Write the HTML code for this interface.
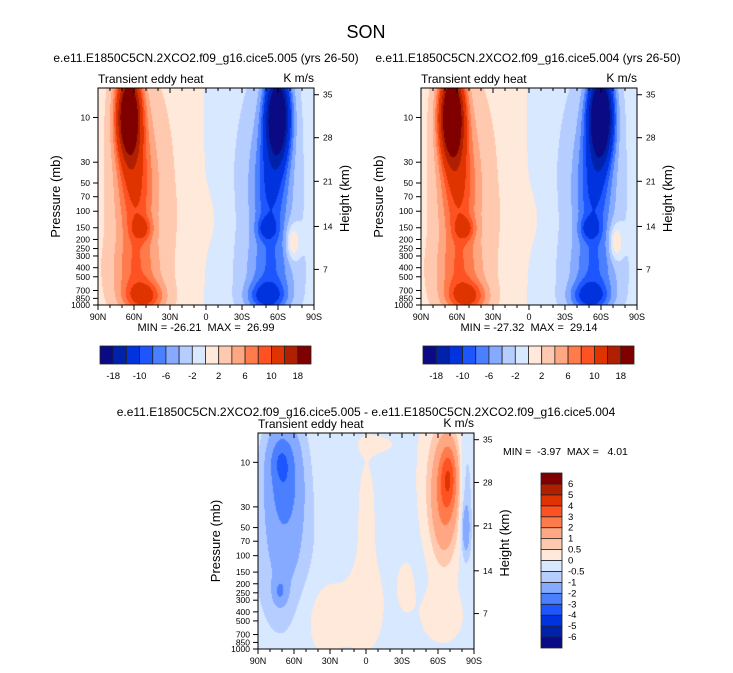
<!DOCTYPE html>
<html><head><meta charset="utf-8"><style>
body{margin:0;background:#fff;width:733px;height:673px;overflow:hidden;position:relative;font-family:"Liberation Sans",sans-serif}
canvas{position:absolute}
svg{position:absolute;left:0;top:0}
text{white-space:pre}
</style></head><body>
<canvas id="c1" width="216" height="217" style="left:98px;top:88px"></canvas>
<canvas id="c2" width="216" height="217" style="left:421px;top:88px"></canvas>
<canvas id="c3" width="216" height="216" style="left:258px;top:433px"></canvas>
<svg id="s" width="733" height="673"></svg>
<script>
// ---- data ----
const levelsTop=[-18,-14,-10,-8,-6,-4,-2,0,2,4,6,8,10,14,18];
const levelsDiff=[-6,-5,-4,-3,-2,-1,-0.5,0,0.5,1,2,3,4,5,6];
const colors=["#0a0a85","#0022aa","#0033dd","#1d55ff","#4a80ff","#86aaff","#b6ceff","#d8e8ff","#ffe9da","#ffc9b0","#ffa682","#ff7b4c","#ff5222","#e03400","#b02000","#800000"];
const latLabels=["90N","60N","30N","0","30S","60S","90S"];
const presTicks=[10,30,50,70,100,150,200,250,300,400,500,700,850,1000];
const heightLabels=["35","28","21","14","7"];
const heightFrac=[0.031,0.229,0.430,0.638,0.836];
// blobs for top panels: u (0=90N,1=90S), v (0=top,1=1000mb)
const t1U=[0.14,0.17,0.2,0.21,0.17,0.2, 0.83,0.8,0.78,0.78,0.8,0.78, 0.9,0.5];
const t1V=[0.12,0.45,0.645,0.96,0.85,0.5, 0.12,0.45,0.645,0.96,0.85,0.5, 0.71,0.6];
const t1A=[24,7,5,8,4,2.5, -24,-7,-5,-8,-4,-2.5, 5.5,1.0];
const t2A=[26,7,5,8,4,2.5, -26,-7,-5,-8,-4,-2.5, 5.5,1.0];
const tSu=[0.055,0.08,0.045,0.09,0.11,0.16, 0.055,0.08,0.045,0.09,0.11,0.16, 0.03,0.1];
const tSv=[0.2,0.3,0.05,0.07,0.15,0.6, 0.2,0.3,0.05,0.07,0.15,0.6, 0.08,0.15];
// diff blobs
const dU=[0.12,0.1,0.1,0.12,0.88,0.86,0.85,0.96,0.96,0.3,0.5,0.5,0.85,0.68,0.55];
const dV=[0.2,0.12,0.73,0.55,0.2,0.35,0.2,0.45,0.25,0.85,0.35,0.8,0.85,0.7,0.05];
const dA=[-2.1,-1.0,-1.4,-0.9,2.6,1.5,1.0,-1.3,-0.7,0.5,0.4,0.45,0.45,0.35,0.4];
const dSu=[0.08,0.05,0.03,0.12,0.04,0.06,0.1,0.02,0.03,0.12,0.05,0.1,0.12,0.05,0.1];
const dSv=[0.25,0.1,0.06,0.35,0.15,0.25,0.35,0.12,0.25,0.2,0.3,0.25,0.15,0.15,0.05];
// ---- drawing ----
function colorFor(val,lev){let i=0;while(i<lev.length&&val>=lev[i])i++;return colors[i];}
function hex(c){return[parseInt(c.substr(1,2),16),parseInt(c.substr(3,2),16),parseInt(c.substr(5,2),16)];}
function drawField(id,f,lev){const c=document.getElementById(id),ctx=c.getContext('2d'),W=c.width,H=c.height,img=ctx.createImageData(W,H);
for(let y=0;y<H;y++)for(let x=0;x<W;x++){const rgb=hex(colorFor(f(x/W,y/H),lev));const k=(y*W+x)*4;img.data[k]=rgb[0];img.data[k+1]=rgb[1];img.data[k+2]=rgb[2];img.data[k+3]=255;}
ctx.putImageData(img,0,0);}
function gsum(u,v,U,V,A,Su,Sv){let s=0;for(let i=0;i<U.length;i++){const a=(u-U[i])/Su[i],b=(v-V[i])/Sv[i];s+=A[i]*Math.exp(-(a*a+b*b));}return s;}
const base=u=>1.0*Math.tanh((0.49-u)*18);
drawField('c1',(u,v)=>base(u)+gsum(u,v,t1U,t1V,t1A,tSu,tSv),levelsTop);
drawField('c2',(u,v)=>base(u)+gsum(u,v,t1U,t1V,t2A,tSu,tSv),levelsTop);
drawField('c3',(u,v)=>-0.25+gsum(u,v,dU,dV,dA,dSu,dSv),levelsDiff);
const svg=document.getElementById('s');const NS="http://www.w3.org/2000/svg";
function el(tag,at,txt){const e=document.createElementNS(NS,tag);for(const k in at)e.setAttribute(k,at[k]);if(txt!==undefined)e.textContent=txt;svg.appendChild(e);return e;}
function txt(x,y,s,size,anchor,name,rot){const e=el('text',{x:x,y:y,'font-size':size,'text-anchor':anchor||'middle',fill:'#000'},s);


if(rot)e.setAttribute('transform','rotate(-90 '+x+' '+y+')');return e;}
function panel(x0,y0,W,H,pfx){
 const r=el('rect',{x:x0,y:y0,width:W,height:H,fill:'none',stroke:'#000','stroke-width':1});
 
 
 const lp=Math.log10(4.85),xs=u=>x0+u*W,yp=p=>y0+(Math.log10(p)-lp)/(3-lp)*H;
 for(let i=0;i<=18;i++){const x=xs(i/18);el('line',{x1:x,y1:y0,x2:x,y2:y0+(i%3?3:5),stroke:'#000'});el('line',{x1:x,y1:y0+H,x2:x,y2:y0+H+(i%3?3:5),stroke:'#000'});}
 latLabels.forEach((l,i)=>txt(xs(i/6),y0+H+15,l,9,'middle',pfx+'-x-tick-label'));
 presTicks.forEach(p=>{const y=yp(p);el('line',{x1:x0-5,y1:y,x2:x0,y2:y,stroke:'#000'});txt(x0-8,y+3,String(p),8.5,'end',pfx+'-y-tick-label');});
 heightLabels.forEach((l,i)=>{const y=y0+heightFrac[i]*H;el('line',{x1:x0+W,y1:y,x2:x0+W+5,y2:y,stroke:'#000'});txt(x0+W+9,y+3,l,8.5,'start',pfx+'-height-tick-label');});
 txt(x0-38,y0+H/2,'Pressure (mb)',13,'middle',pfx+'-y-axis-title',true);
 txt(x0+W+35,y0+H/2+2,'Height (km)',13,'middle',pfx+'-right-axis-title',true);
 txt(x0,y0-5,'Transient eddy heat',12,'start',pfx+'-left-string');
 txt(x0+W,y0-6,'K m/s',12,'end',pfx+'-units');
}
function hbar(x0,y0,W,H,lev,pfx){const n=colors.length,bw=W/n;
 colors.forEach((c,i)=>{const r=el('rect',{x:x0+i*bw,y:y0,width:bw,height:H,fill:c,stroke:'#222','stroke-width':0.8});
 
 });
 lev.forEach((l,i)=>{if(i%2===0)txt(x0+(i+1)*bw,y0+H+15,String(l),9.5,'middle',pfx+'-colorbar-label');});}
txt(366,38,'SON',18,'middle','main-title');
txt(206,62,'e.e11.E1850C5CN.2XCO2.f09_g16.cice5.005 (yrs 26-50)',12,'middle','left-panel-title');
txt(528,62,'e.e11.E1850C5CN.2XCO2.f09_g16.cice5.004 (yrs 26-50)',12,'middle','right-panel-title');
txt(366,416,'e.e11.E1850C5CN.2XCO2.f09_g16.cice5.005 - e.e11.E1850C5CN.2XCO2.f09_g16.cice5.004',12,'middle','diff-panel-title');
panel(98,88,216,217,'left');panel(421,88,216,217,'right');panel(258,433,216,216,'diff');
txt(206,331,'MIN = -26.21  MAX =  26.99',11,'middle','left-min-max');
txt(529,331,'MIN = -27.32  MAX =  29.14',11,'middle','right-min-max');
txt(503,455,'MIN =  -3.97  MAX =   4.01',10.5,'start','diff-min-max');
hbar(100,346,211,18,levelsTop,'left');hbar(423,346,211,18,levelsTop,'right');
(function(){const x0=541,y0=473,W=21,H=175,n=colors.length,bh=H/n;
 colors.forEach((c,i)=>{const r=el('rect',{x:x0,y:y0+(n-1-i)*bh,width:W,height:bh,fill:c,stroke:'#222','stroke-width':0.8});
 
 });
 levelsDiff.forEach((l,i)=>txt(x0+W+6,y0+(n-1-i)*bh+3,String(l),9.5,'start','diff-colorbar-label'));})();
</script>
</body></html>
